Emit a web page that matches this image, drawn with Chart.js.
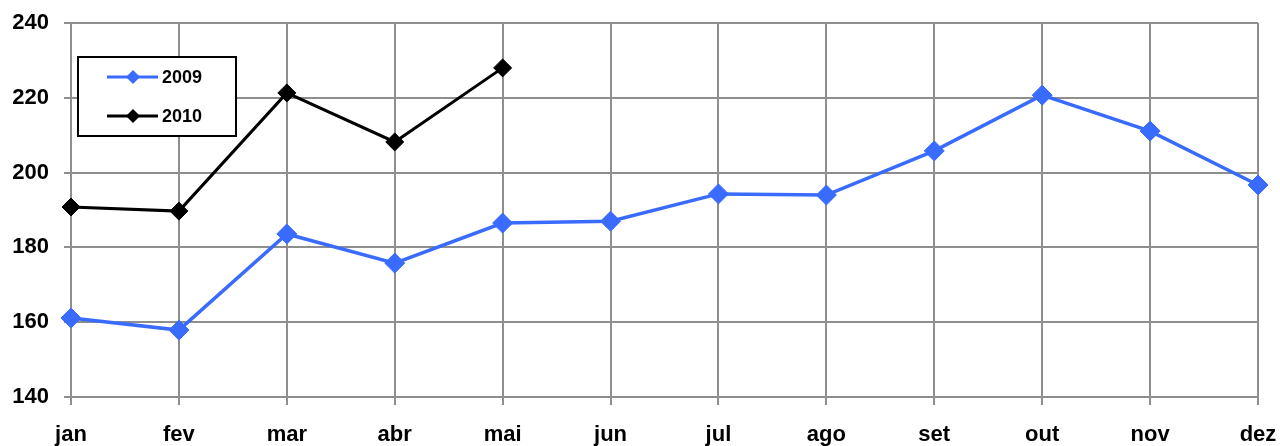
<!DOCTYPE html>
<html>
<head>
<meta charset="utf-8">
<script src="https://cdn.jsdelivr.net/npm/chart.js@4/dist/chart.umd.min.js"></script>
<style>
  html, body { margin: 0; padding: 0; background: #fff; }
  #wrap { width: 1280px; height: 446px; }
</style>
</head>
<body>
<div id="wrap"><canvas id="myChart" width="1280" height="446"></canvas></div>
<script>
// Data
const months = ['jan', 'fev', 'mar', 'abr', 'mai', 'jun', 'jul', 'ago', 'set', 'out', 'nov', 'dez'];
const values2009 = [161.1, 157.9, 183.6, 175.8, 186.5, 187.0, 194.3, 194.0, 205.8, 220.7, 211.1, 196.7];
const values2010 = [190.8, 189.7, 221.3, 208.2, 228.0, null, null, null, null, null, null, null];
const yTicks = [140, 160, 180, 200, 220, 240];

const BLUE = '#3a6bff';
const GRID = '#8e8e8e';
const FONT = '"Liberation Sans", Arial, sans-serif';

// Legend box drawn inside the plot, like the original
const boxLegend = {
  id: 'boxLegend',
  afterDraw(chart) {
    const ctx = chart.ctx;
    ctx.save();
    ctx.lineWidth = 2;
    ctx.strokeStyle = '#000';
    ctx.fillStyle = '#fff';
    ctx.fillRect(78, 57, 158, 79);
    ctx.strokeRect(78, 57, 158, 79);
    const rows = [{ y: 77, ds: chart.data.datasets[0] }, { y: 116, ds: chart.data.datasets[1] }];
    rows.forEach(r => {
      ctx.strokeStyle = r.ds.borderColor;
      ctx.lineWidth = 3;
      ctx.beginPath();
      ctx.moveTo(107, r.y);
      ctx.lineTo(158, r.y);
      ctx.stroke();
      ctx.fillStyle = r.ds.pointBackgroundColor;
      ctx.beginPath();
      ctx.moveTo(133, r.y - 7);
      ctx.lineTo(140, r.y);
      ctx.lineTo(133, r.y + 7);
      ctx.lineTo(126, r.y);
      ctx.closePath();
      ctx.fill();
      ctx.fillStyle = '#000';
      ctx.font = 'bold 18px ' + FONT;
      ctx.textBaseline = 'middle';
      ctx.textAlign = 'left';
      ctx.fillText(r.ds.label, 162, r.y + 1);
    });
    ctx.restore();
  }
};

const ctx = document.getElementById('myChart').getContext('2d');
new Chart(ctx, {
  type: 'line',
  data: {
    labels: months,
    datasets: [
      {
        label: '2009',
        data: values2009,
        borderColor: BLUE,
        backgroundColor: BLUE,
        pointBackgroundColor: BLUE,
        pointBorderColor: BLUE,
        borderWidth: 3.5,
        pointStyle: 'rectRot',
        pointRadius: 10,
        pointBorderWidth: 1,
        tension: 0,
      },
      {
        label: '2010',
        data: values2010,
        borderColor: '#000',
        backgroundColor: '#000',
        pointBackgroundColor: '#000',
        pointBorderColor: '#000',
        borderWidth: 3,
        pointStyle: 'rectRot',
        pointRadius: 9,
        pointBorderWidth: 1,
        tension: 0,
        spanGaps: false,
      }
    ]
  },
  options: {
    responsive: false,
    animation: false,
    layout: { padding: { top: 23, right: 22, left: 0, bottom: 0 } },
    plugins: { legend: { display: false }, tooltip: { enabled: false } },
    scales: {
      x: {
        offset: false,
        grid: { color: GRID, lineWidth: 2, tickLength: 8, drawTicks: true },
        border: { color: GRID, width: 2 },
        ticks: {
          color: '#000',
          padding: 17,
          maxRotation: 0,
          autoSkip: false,
          font: { family: FONT, size: 22, weight: 'bold' }
        },
        afterFit(scale) {
          scale.height = 49;
          scale.paddingLeft = 0;
          scale.paddingRight = 0;
        }
      },
      y: {
        min: 140,
        max: 240,
        afterBuildTicks(scale) { scale.ticks = yTicks.map(v => ({ value: v })); },
        grid: { color: GRID, lineWidth: 2, tickLength: 7 },
        border: { color: GRID, width: 2 },
        ticks: {
          color: '#000',
          padding: 15,
          font: { family: FONT, size: 22, weight: 'bold' }
        },
        afterFit(scale) {
          scale.width = 71;
          scale.paddingTop = 0;
          scale.paddingBottom = 0;
        }
      }
    }
  },
  plugins: [boxLegend]
});
</script>
</body>
</html>
